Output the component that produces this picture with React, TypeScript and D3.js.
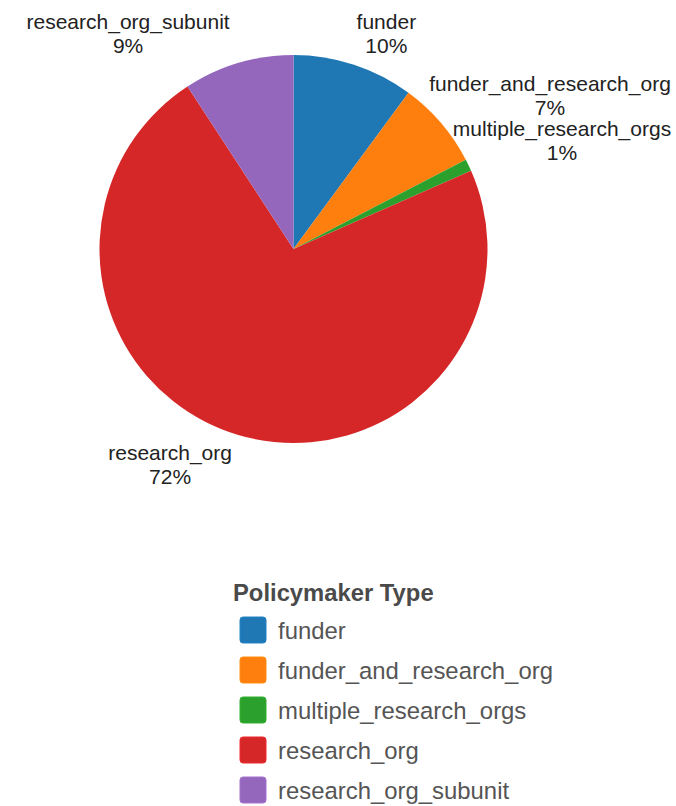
import React from "react";
import * as d3 from "d3";

const categories = [
  "funder",
  "funder_and_research_org",
  "multiple_research_orgs",
  "research_org",
  "research_org_subunit",
];
const shares = [10.1, 7.3, 1.0, 72.4, 9.2];
const percentLabels = ["10%", "7%", "1%", "72%", "9%"];
const colors = ["#1f77b4", "#ff7f0e", "#2ca02c", "#d62728", "#9467bd"];
const legendTitle = "Policymaker Type";

// layout-only nudges of the outer labels (px), relative to the mid-angle point
const labelNudges: [number, number][] = [
  [18, 13],
  [74, 2],
  [52, -5],
  [-55, -15],
  [-97, 15],
];

const W = 676;
const H = 806;
const cx = 293.5;
const cy = 249;
const R = 194;
const labelR = 240;
const FONT = "'Liberation Sans', Arial, Helvetica, sans-serif";

export default function App() {
  const data = categories.map((c, i) => ({ name: c, value: shares[i], i }));
  const pie = d3
    .pie<{ name: string; value: number; i: number }>()
    .value((d) => d.value)
    .sort(null);
  const arcs = pie(data);
  const arcGen = d3
    .arc<d3.PieArcDatum<{ name: string; value: number; i: number }>>()
    .innerRadius(0)
    .outerRadius(R);
  const color = d3.scaleOrdinal<string, string>().domain(categories).range(colors);

  const legendY = d3
    .scaleBand<string>()
    .domain(categories)
    .range([610, 810])
    .paddingInner(0);

  return (
    <svg
      width={W}
      height={H}
      style={{ position: "absolute", left: 0, top: 0, background: "#fff" }}
      fontFamily={FONT}
    >
      <g transform={`translate(${cx},${cy})`}>
        {arcs.map((a) => (
          <path key={a.data.name} d={arcGen(a) || ""} fill={color(a.data.name)} />
        ))}
      </g>
      {arcs.map((a, i) => {
        const mid = (a.startAngle + a.endAngle) / 2;
        const x = cx + labelR * Math.sin(mid) + labelNudges[i][0];
        const y = cy - labelR * Math.cos(mid) + labelNudges[i][1];
        return (
          <g key={"lab" + i} fill="#222" fontSize={21} textAnchor="middle">
            <text x={x} y={y - 12} dominantBaseline="central">
              {a.data.name}
            </text>
            <text x={x} y={y + 12} dominantBaseline="central">
              {percentLabels[i]}
            </text>
          </g>
        );
      })}
      <g>
        <text x={233} y={601} fontSize={23.8} fontWeight="bold" fill="#4a4a4a">
          {legendTitle}
        </text>
        {categories.map((c) => {
          const y0 = (legendY(c) as number) + 7;
          return (
            <g key={"leg" + c}>
              <rect
                x={240}
                y={y0}
                width={26}
                height={26}
                rx={3}
                fill={color(c)}
                stroke={d3.color(color(c))!.brighter(0.3).toString()}
                strokeWidth={1}
              />
              <text
                x={278}
                y={y0 + 13}
                dominantBaseline="central"
                fontSize={23.9}
                fill="#555"
              >
                {c}
              </text>
            </g>
          );
        })}
      </g>
    </svg>
  );
}
